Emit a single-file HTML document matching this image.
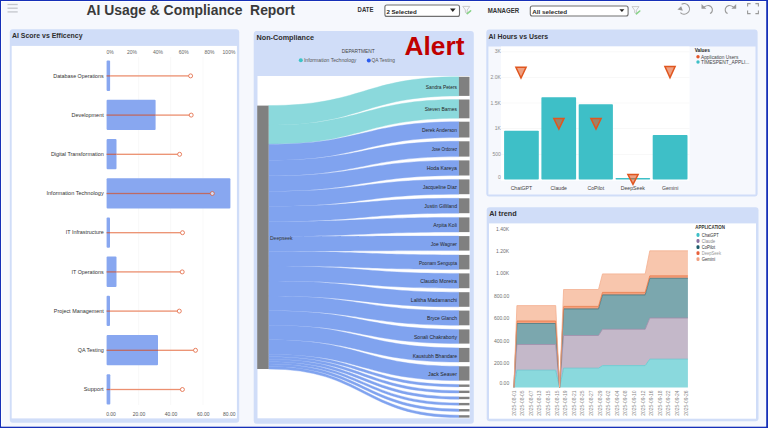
<!DOCTYPE html>
<html><head><meta charset="utf-8"><title>AI Usage &amp; Compliance Report</title>
<style>html,body{margin:0;padding:0;width:768px;height:428px;overflow:hidden;background:#f6f8fd;font-family:"Liberation Sans", sans-serif;}svg{display:block}</style>
</head><body>
<svg width="768" height="428" viewBox="0 0 768 428"><rect x="0" y="0" width="768" height="428" fill="#1630b8"/>
<rect x="1" y="1.0" width="765.2" height="425.6" fill="#ffffff"/>
<rect x="1.8" y="2" width="764" height="424.2" fill="#f6f8fd"/>
<rect x="7.5" y="3.85" width="10.2" height="1.3" fill="#c4c6cc"/>
<rect x="7.5" y="7.549999999999999" width="10.2" height="1.3" fill="#c4c6cc"/>
<rect x="7.5" y="11.25" width="10.2" height="1.3" fill="#c4c6cc"/>
<text x="86.4" y="14.8" font-family='"Liberation Sans", sans-serif' font-weight="bold" font-size="14" fill="#3a3a3a" textLength="208.5" lengthAdjust="spacingAndGlyphs" xml:space="preserve">AI Usage &amp; Compliance  Report</text>
<text x="357.6" y="12.2" font-family='"Liberation Sans", sans-serif' font-weight="bold" font-size="6.4" fill="#333333" textLength="15.8" lengthAdjust="spacingAndGlyphs">DATE</text>
<rect x="384.9" y="5.0" width="74.6" height="11.4" rx="2" fill="#ffffff" stroke="#707070" stroke-width="1.1"/>
<text x="386.4" y="13.5" font-family='"Liberation Sans", sans-serif' font-weight="bold" font-size="6.2" fill="#252423" textLength="30.4" lengthAdjust="spacingAndGlyphs">2 Selected</text>
<path d="M450 8.6 L455.6 8.6 L452.8 12.1 Z" fill="#252423"/>
<path d="M462.8 6.4 L469.8 6.4 L467.2 10.0 L467.2 13.4 L465.40000000000003 12.4 L465.40000000000003 10.0 Z" fill="none" stroke="#c4c4c4" stroke-width="0.9"/><path d="M467.2 13.600000000000001 L470.6 10.8" fill="none" stroke="#88d488" stroke-width="1.6" stroke-linecap="round"/>
<text x="487.7" y="12.6" font-family='"Liberation Sans", sans-serif' font-weight="bold" font-size="6.4" fill="#333333" textLength="31.5" lengthAdjust="spacingAndGlyphs">MANAGER</text>
<rect x="530.3" y="6.0" width="97.8" height="10" rx="2" fill="#ffffff" stroke="#707070" stroke-width="1.1"/>
<text x="532.2" y="13.6" font-family='"Liberation Sans", sans-serif' font-weight="bold" font-size="6.2" fill="#2a2a2a" textLength="35" lengthAdjust="spacingAndGlyphs">All selected</text>
<path d="M619.4 9.2 L624.4 9.2 L621.9 12 Z" fill="#252423"/>
<path d="M632 6.6 L639 6.6 L636.4 10.2 L636.4 13.6 L634.6 12.6 L634.6 10.2 Z" fill="none" stroke="#c4c4c4" stroke-width="0.9"/><path d="M636.4 13.8 L639.8 11.0" fill="none" stroke="#88d488" stroke-width="1.6" stroke-linecap="round"/>
<path d="M681.6 4.2 A5.3 5.3 0 1 1 680.4 12.6" fill="none" stroke="#9a9a9a" stroke-width="1.1"/>
<path d="M677.4 9.4 L681.2 6.2 L682.8 10.8 Z" fill="#9a9a9a"/>
<path d="M704 7 Q710 3.5 712.2 8.5 Q713 12 710 13.6" fill="none" stroke="#9a9a9a" stroke-width="1.1"/>
<path d="M701.5 4 L701.5 8.8 L706.3 8.8 Z" fill="#9a9a9a"/>
<path d="M733.6 7 Q727.6 3.5 725.4 8.5 Q724.6 12 727.6 13.6" fill="none" stroke="#9a9a9a" stroke-width="1.1"/>
<path d="M736.2 4 L736.2 8.8 L731.4 8.8 Z" fill="#9a9a9a"/>
<path d="M747.6 6.6 L747.6 3.6 L750.6 3.6 M755.4 3.6 L758.4 3.6 L758.4 6.6 M758.4 10.6 L758.4 13.6 L755.4 13.6 M750.6 13.6 L747.6 13.6 L747.6 10.6" fill="none" stroke="#9a9a9a" stroke-width="1.1"/>
<rect x="9.8" y="29.3" width="229.39999999999998" height="393.4" rx="3" fill="#d0ddf8"/>
<rect x="11.7" y="45.9" width="225.2" height="372.5" fill="#ffffff"/>
<text x="12" y="38.3" font-family='"Liberation Sans", sans-serif' font-weight="bold" font-size="7.2" fill="#2e2e2e" textLength="70.5" lengthAdjust="spacingAndGlyphs">AI Score vs Efficency</text>
<rect x="138.5" y="57" width="0.6" height="348" fill="#f3f3f3"/>
<rect x="170.5" y="57" width="0.6" height="348" fill="#f3f3f3"/>
<rect x="202.7" y="57" width="0.6" height="348" fill="#f3f3f3"/>
<text x="110" y="53.6" font-family='"Liberation Sans", sans-serif' font-size="5" text-anchor="middle" fill="#666666" font-weight="normal" >0%</text>
<text x="132" y="53.6" font-family='"Liberation Sans", sans-serif' font-size="5" text-anchor="middle" fill="#666666" font-weight="normal" >20%</text>
<text x="158" y="53.6" font-family='"Liberation Sans", sans-serif' font-size="5" text-anchor="middle" fill="#666666" font-weight="normal" >40%</text>
<text x="183.7" y="53.6" font-family='"Liberation Sans", sans-serif' font-size="5" text-anchor="middle" fill="#666666" font-weight="normal" >60%</text>
<text x="209.5" y="53.6" font-family='"Liberation Sans", sans-serif' font-size="5" text-anchor="middle" fill="#666666" font-weight="normal" >80%</text>
<text x="229" y="53.6" font-family='"Liberation Sans", sans-serif' font-size="5" text-anchor="middle" fill="#666666" font-weight="normal" >100%</text>
<text x="111" y="415.6" font-family='"Liberation Sans", sans-serif' font-size="5" text-anchor="middle" fill="#555555" font-weight="normal" >0.00</text>
<text x="139" y="415.6" font-family='"Liberation Sans", sans-serif' font-size="5" text-anchor="middle" fill="#555555" font-weight="normal" >20.00</text>
<text x="171" y="415.6" font-family='"Liberation Sans", sans-serif' font-size="5" text-anchor="middle" fill="#555555" font-weight="normal" >40.00</text>
<text x="203.3" y="415.6" font-family='"Liberation Sans", sans-serif' font-size="5" text-anchor="middle" fill="#555555" font-weight="normal" >60.00</text>
<text x="229.3" y="415.6" font-family='"Liberation Sans", sans-serif' font-size="5" text-anchor="middle" fill="#555555" font-weight="normal" >80.00</text>
<text x="103.7" y="77.5" font-family='"Liberation Sans", sans-serif' font-size="5.4" text-anchor="end" fill="#333333" font-weight="normal" textLength="50.4" lengthAdjust="spacingAndGlyphs">Database Operations</text>
<rect x="106.6" y="60.599999999999994" width="3.5" height="30.3" rx="1" fill="#88a7f0"/>
<rect x="106.6" y="75.24999999999999" width="3.5" height="1.3" fill="#bd6a64"/>
<rect x="110.1" y="75.24999999999999" width="78.5" height="1.3" fill="#ec9070"/>
<circle cx="190.6" cy="75.89999999999999" r="2" fill="#ffffff" fill-opacity="0.6" stroke="#e05a30" stroke-opacity="0.75" stroke-width="1"/>
<text x="103.7" y="116.7" font-family='"Liberation Sans", sans-serif' font-size="5.4" text-anchor="end" fill="#333333" font-weight="normal" textLength="32.1" lengthAdjust="spacingAndGlyphs">Development</text>
<rect x="106.6" y="99.8" width="49.0" height="30.3" rx="1" fill="#88a7f0"/>
<rect x="106.6" y="114.44999999999999" width="49.0" height="1.3" fill="#bd6a64"/>
<rect x="155.6" y="114.44999999999999" width="33.599999999999994" height="1.3" fill="#ec9070"/>
<circle cx="191.2" cy="115.1" r="2" fill="#ffffff" fill-opacity="0.6" stroke="#e05a30" stroke-opacity="0.75" stroke-width="1"/>
<text x="103.7" y="155.9" font-family='"Liberation Sans", sans-serif' font-size="5.4" text-anchor="end" fill="#333333" font-weight="normal" textLength="52.8" lengthAdjust="spacingAndGlyphs">Digital Transformation</text>
<rect x="106.6" y="139.0" width="9.900000000000006" height="30.3" rx="1" fill="#88a7f0"/>
<rect x="106.6" y="153.65" width="9.900000000000006" height="1.3" fill="#bd6a64"/>
<rect x="116.5" y="153.65" width="61.099999999999994" height="1.3" fill="#ec9070"/>
<circle cx="179.6" cy="154.3" r="2" fill="#ffffff" fill-opacity="0.6" stroke="#e05a30" stroke-opacity="0.75" stroke-width="1"/>
<text x="103.7" y="195.1" font-family='"Liberation Sans", sans-serif' font-size="5.4" text-anchor="end" fill="#333333" font-weight="normal" textLength="57.2" lengthAdjust="spacingAndGlyphs">Information Technology</text>
<rect x="106.6" y="178.2" width="123.80000000000001" height="30.3" rx="1" fill="#88a7f0"/>
<rect x="106.6" y="192.85" width="103.70000000000002" height="1.3" fill="#bd6a64"/>
<circle cx="212.3" cy="193.5" r="2" fill="#ffffff" fill-opacity="0.6" stroke="#e05a30" stroke-opacity="0.75" stroke-width="1"/>
<text x="103.7" y="234.3" font-family='"Liberation Sans", sans-serif' font-size="5.4" text-anchor="end" fill="#333333" font-weight="normal" textLength="37.9" lengthAdjust="spacingAndGlyphs">IT Infrastructure</text>
<rect x="106.6" y="217.4" width="3.4000000000000057" height="30.3" rx="1" fill="#88a7f0"/>
<rect x="106.6" y="232.05" width="3.4000000000000057" height="1.3" fill="#bd6a64"/>
<rect x="110" y="232.05" width="70.5" height="1.3" fill="#ec9070"/>
<circle cx="182.5" cy="232.70000000000002" r="2" fill="#ffffff" fill-opacity="0.6" stroke="#e05a30" stroke-opacity="0.75" stroke-width="1"/>
<text x="103.7" y="273.5" font-family='"Liberation Sans", sans-serif' font-size="5.4" text-anchor="end" fill="#333333" font-weight="normal" textLength="32.1" lengthAdjust="spacingAndGlyphs">IT Operations</text>
<rect x="106.6" y="256.6" width="9.900000000000006" height="30.3" rx="1" fill="#88a7f0"/>
<rect x="106.6" y="271.25000000000006" width="9.900000000000006" height="1.3" fill="#bd6a64"/>
<rect x="116.5" y="271.25000000000006" width="63.69999999999999" height="1.3" fill="#ec9070"/>
<circle cx="182.2" cy="271.90000000000003" r="2" fill="#ffffff" fill-opacity="0.6" stroke="#e05a30" stroke-opacity="0.75" stroke-width="1"/>
<text x="103.7" y="312.7" font-family='"Liberation Sans", sans-serif' font-size="5.4" text-anchor="end" fill="#333333" font-weight="normal" textLength="49.9" lengthAdjust="spacingAndGlyphs">Project Management</text>
<rect x="106.6" y="295.8" width="3.4000000000000057" height="30.3" rx="1" fill="#88a7f0"/>
<rect x="106.6" y="310.45000000000005" width="3.4000000000000057" height="1.3" fill="#bd6a64"/>
<rect x="110" y="310.45000000000005" width="67.30000000000001" height="1.3" fill="#ec9070"/>
<circle cx="179.3" cy="311.1" r="2" fill="#ffffff" fill-opacity="0.6" stroke="#e05a30" stroke-opacity="0.75" stroke-width="1"/>
<text x="103.7" y="351.9" font-family='"Liberation Sans", sans-serif' font-size="5.4" text-anchor="end" fill="#333333" font-weight="normal" textLength="26" lengthAdjust="spacingAndGlyphs">QA Testing</text>
<rect x="106.6" y="335.0" width="51.400000000000006" height="30.3" rx="1" fill="#88a7f0"/>
<rect x="106.6" y="349.65000000000003" width="51.400000000000006" height="1.3" fill="#bd6a64"/>
<rect x="158" y="349.65000000000003" width="35.5" height="1.3" fill="#ec9070"/>
<circle cx="195.5" cy="350.3" r="2" fill="#ffffff" fill-opacity="0.6" stroke="#e05a30" stroke-opacity="0.75" stroke-width="1"/>
<text x="103.7" y="391.1" font-family='"Liberation Sans", sans-serif' font-size="5.4" text-anchor="end" fill="#333333" font-weight="normal" textLength="20" lengthAdjust="spacingAndGlyphs">Support</text>
<rect x="106.6" y="374.20000000000005" width="3.700000000000003" height="30.3" rx="1" fill="#88a7f0"/>
<rect x="106.6" y="388.8500000000001" width="3.700000000000003" height="1.3" fill="#bd6a64"/>
<rect x="110.3" y="388.8500000000001" width="70.10000000000001" height="1.3" fill="#ec9070"/>
<circle cx="182.4" cy="389.50000000000006" r="2" fill="#ffffff" fill-opacity="0.6" stroke="#e05a30" stroke-opacity="0.75" stroke-width="1"/>
<rect x="253.7" y="31" width="220.10000000000002" height="392.8" rx="3" fill="#d0ddf8"/>
<rect x="257.5" y="76" width="212.3" height="342.3" fill="#ffffff"/>
<text x="256.5" y="40.2" font-family='"Liberation Sans", sans-serif' font-weight="bold" font-size="7.2" fill="#2e2e2e" textLength="57.6" lengthAdjust="spacingAndGlyphs">Non-Compliance</text>
<text x="341.8" y="53" font-family='"Liberation Sans", sans-serif' font-size="5" text-anchor="start" fill="#444444" font-weight="normal" textLength="32.8" lengthAdjust="spacingAndGlyphs">DEPARTMENT</text>
<circle cx="300.8" cy="60.3" r="2" fill="#3cc4c8"/>
<text x="303.9" y="62" font-family='"Liberation Sans", sans-serif' font-size="5" text-anchor="start" fill="#555555" font-weight="normal" textLength="52.5" lengthAdjust="spacingAndGlyphs">Information Technology</text>
<circle cx="368.8" cy="60.4" r="2" fill="#2a5cf0"/>
<text x="371.5" y="62" font-family='"Liberation Sans", sans-serif' font-size="5" text-anchor="start" fill="#555555" font-weight="normal" textLength="23.5" lengthAdjust="spacingAndGlyphs">QA Testing</text>
<text x="404.6" y="55.2" font-family='"Liberation Sans", sans-serif' font-weight="bold" font-size="26" fill="#c00000" textLength="59.8" lengthAdjust="spacingAndGlyphs">Alert</text>
<path d="M268.6 105.60 C363.75 105.60 363.75 76.80 458.9 76.80 L458.9 95.90 C363.75 95.90 363.75 125.05 268.6 125.05 Z" fill="#8bd9dc" stroke="#8bd9dc" stroke-width="0.4"/><path d="M268.6 125.05 C363.75 125.05 363.75 99.50 458.9 99.50 L458.9 118.30 C363.75 118.30 363.75 144.19 268.6 144.19 Z" fill="#8bd9dc" stroke="#8bd9dc" stroke-width="0.4"/><path d="M268.6 144.19 C363.75 144.19 363.75 121.70 458.9 121.70 L458.9 137.50 C363.75 137.50 363.75 160.28 268.6 160.28 Z" fill="#80a3ef" stroke="#80a3ef" stroke-width="0.4"/><path d="M268.6 160.28 C363.75 160.28 363.75 141.30 458.9 141.30 L458.9 156.60 C363.75 156.60 363.75 175.85 268.6 175.85 Z" fill="#80a3ef" stroke="#80a3ef" stroke-width="0.4"/><path d="M268.6 175.85 C363.75 175.85 363.75 160.40 458.9 160.40 L458.9 175.50 C363.75 175.50 363.75 191.23 268.6 191.23 Z" fill="#80a3ef" stroke="#80a3ef" stroke-width="0.4"/><path d="M268.6 191.23 C363.75 191.23 363.75 179.40 458.9 179.40 L458.9 194.20 C363.75 194.20 363.75 206.30 268.6 206.30 Z" fill="#80a3ef" stroke="#80a3ef" stroke-width="0.4"/><path d="M268.6 206.30 C363.75 206.30 363.75 198.30 458.9 198.30 L458.9 213.20 C363.75 213.20 363.75 221.47 268.6 221.47 Z" fill="#80a3ef" stroke="#80a3ef" stroke-width="0.4"/><path d="M268.6 221.47 C363.75 221.47 363.75 217.40 458.9 217.40 L458.9 232.10 C363.75 232.10 363.75 236.43 268.6 236.43 Z" fill="#80a3ef" stroke="#80a3ef" stroke-width="0.4"/><path d="M268.6 236.43 C363.75 236.43 363.75 236.10 458.9 236.10 L458.9 250.60 C363.75 250.60 363.75 251.20 268.6 251.20 Z" fill="#80a3ef" stroke="#80a3ef" stroke-width="0.4"/><path d="M268.6 251.20 C363.75 251.20 363.75 254.90 458.9 254.90 L458.9 269.40 C363.75 269.40 363.75 265.96 268.6 265.96 Z" fill="#80a3ef" stroke="#80a3ef" stroke-width="0.4"/><path d="M268.6 265.96 C363.75 265.96 363.75 273.40 458.9 273.40 L458.9 288.20 C363.75 288.20 363.75 281.03 268.6 281.03 Z" fill="#80a3ef" stroke="#80a3ef" stroke-width="0.4"/><path d="M268.6 281.03 C363.75 281.03 363.75 292.20 458.9 292.20 L458.9 306.80 C363.75 306.80 363.75 295.90 268.6 295.90 Z" fill="#80a3ef" stroke="#80a3ef" stroke-width="0.4"/><path d="M268.6 295.90 C363.75 295.90 363.75 310.60 458.9 310.60 L458.9 325.30 C363.75 325.30 363.75 310.86 268.6 310.86 Z" fill="#80a3ef" stroke="#80a3ef" stroke-width="0.4"/><path d="M268.6 310.86 C363.75 310.86 363.75 329.40 458.9 329.40 L458.9 343.60 C363.75 343.60 363.75 325.32 268.6 325.32 Z" fill="#80a3ef" stroke="#80a3ef" stroke-width="0.4"/><path d="M268.6 325.32 C363.75 325.32 363.75 347.90 458.9 347.90 L458.9 362.10 C363.75 362.10 363.75 339.78 268.6 339.78 Z" fill="#80a3ef" stroke="#80a3ef" stroke-width="0.4"/><path d="M268.6 339.78 C363.75 339.78 363.75 366.30 458.9 366.30 L458.9 380.60 C363.75 380.60 363.75 354.34 268.6 354.34 Z" fill="#80a3ef" stroke="#80a3ef" stroke-width="0.4"/><path d="M268.6 354.34 C363.75 354.34 363.75 384.50 458.9 384.50 L458.9 386.90 C363.75 386.90 363.75 356.78 268.6 356.78 Z" fill="#80a3ef" stroke="#80a3ef" stroke-width="0.4"/><path d="M268.6 356.78 C363.75 356.78 363.75 390.64 458.9 390.64 L458.9 393.04 C363.75 393.04 363.75 359.23 268.6 359.23 Z" fill="#80a3ef" stroke="#80a3ef" stroke-width="0.4"/><path d="M268.6 359.23 C363.75 359.23 363.75 396.78 458.9 396.78 L458.9 399.18 C363.75 399.18 363.75 361.67 268.6 361.67 Z" fill="#80a3ef" stroke="#80a3ef" stroke-width="0.4"/><path d="M268.6 361.67 C363.75 361.67 363.75 402.92 458.9 402.92 L458.9 405.32 C363.75 405.32 363.75 364.11 268.6 364.11 Z" fill="#80a3ef" stroke="#80a3ef" stroke-width="0.4"/><path d="M268.6 364.11 C363.75 364.11 363.75 409.06 458.9 409.06 L458.9 411.46 C363.75 411.46 363.75 366.56 268.6 366.56 Z" fill="#80a3ef" stroke="#80a3ef" stroke-width="0.4"/><path d="M268.6 366.56 C363.75 366.56 363.75 415.20 458.9 415.20 L458.9 417.60 C363.75 417.60 363.75 369.00 268.6 369.00 Z" fill="#80a3ef" stroke="#80a3ef" stroke-width="0.4"/>
<rect x="257.2" y="105.6" width="11.4" height="263.4" fill="#808080"/>
<rect x="458.9" y="76.80" width="10.6" height="19.10" fill="#808080"/>
<text x="457" y="88.85" font-family='"Liberation Sans", sans-serif' font-size="5.2" text-anchor="end" fill="#252525" font-weight="normal" textLength="31.2" lengthAdjust="spacingAndGlyphs">Sandra Peters</text>
<rect x="458.9" y="99.50" width="10.6" height="18.80" fill="#808080"/>
<text x="457" y="111.4" font-family='"Liberation Sans", sans-serif' font-size="5.2" text-anchor="end" fill="#252525" font-weight="normal" textLength="32.3" lengthAdjust="spacingAndGlyphs">Steven Barnes</text>
<rect x="458.9" y="121.70" width="10.6" height="15.80" fill="#808080"/>
<text x="457" y="132.1" font-family='"Liberation Sans", sans-serif' font-size="5.2" text-anchor="end" fill="#252525" font-weight="normal" textLength="35.0" lengthAdjust="spacingAndGlyphs">Derek Anderson</text>
<rect x="458.9" y="141.30" width="10.6" height="15.30" fill="#808080"/>
<text x="457" y="151.45" font-family='"Liberation Sans", sans-serif' font-size="5.2" text-anchor="end" fill="#252525" font-weight="normal" textLength="25.2" lengthAdjust="spacingAndGlyphs">Jose Ordonez</text>
<rect x="458.9" y="160.40" width="10.6" height="15.10" fill="#808080"/>
<text x="457" y="170.45" font-family='"Liberation Sans", sans-serif' font-size="5.2" text-anchor="end" fill="#252525" font-weight="normal" textLength="30.3" lengthAdjust="spacingAndGlyphs">Hoda Kareya</text>
<rect x="458.9" y="179.40" width="10.6" height="14.80" fill="#808080"/>
<text x="457" y="189.3" font-family='"Liberation Sans", sans-serif' font-size="5.2" text-anchor="end" fill="#252525" font-weight="normal" textLength="34.2" lengthAdjust="spacingAndGlyphs">Jacqueline Diaz</text>
<rect x="458.9" y="198.30" width="10.6" height="14.90" fill="#808080"/>
<text x="457" y="208.25" font-family='"Liberation Sans", sans-serif' font-size="5.2" text-anchor="end" fill="#252525" font-weight="normal" textLength="32.7" lengthAdjust="spacingAndGlyphs">Justin Gilliland</text>
<rect x="458.9" y="217.40" width="10.6" height="14.70" fill="#808080"/>
<text x="457" y="227.25" font-family='"Liberation Sans", sans-serif' font-size="5.2" text-anchor="end" fill="#252525" font-weight="normal" textLength="23.7" lengthAdjust="spacingAndGlyphs">Arpita Koli</text>
<rect x="458.9" y="236.10" width="10.6" height="14.50" fill="#808080"/>
<text x="457" y="245.85" font-family='"Liberation Sans", sans-serif' font-size="5.2" text-anchor="end" fill="#252525" font-weight="normal" textLength="26.2" lengthAdjust="spacingAndGlyphs">Joe Wagner</text>
<rect x="458.9" y="254.90" width="10.6" height="14.50" fill="#808080"/>
<text x="457" y="264.65" font-family='"Liberation Sans", sans-serif' font-size="5.2" text-anchor="end" fill="#252525" font-weight="normal" textLength="38.0" lengthAdjust="spacingAndGlyphs">Poonam Sengupta</text>
<rect x="458.9" y="273.40" width="10.6" height="14.80" fill="#808080"/>
<text x="457" y="283.29999999999995" font-family='"Liberation Sans", sans-serif' font-size="5.2" text-anchor="end" fill="#252525" font-weight="normal" textLength="36.8" lengthAdjust="spacingAndGlyphs">Claudio Moreira</text>
<rect x="458.9" y="292.20" width="10.6" height="14.60" fill="#808080"/>
<text x="457" y="302.0" font-family='"Liberation Sans", sans-serif' font-size="5.2" text-anchor="end" fill="#252525" font-weight="normal" textLength="46.2" lengthAdjust="spacingAndGlyphs">Lalitha Madamanchi</text>
<rect x="458.9" y="310.60" width="10.6" height="14.70" fill="#808080"/>
<text x="457" y="320.45000000000005" font-family='"Liberation Sans", sans-serif' font-size="5.2" text-anchor="end" fill="#252525" font-weight="normal" textLength="29.9" lengthAdjust="spacingAndGlyphs">Bryce Glanch</text>
<rect x="458.9" y="329.40" width="10.6" height="14.20" fill="#808080"/>
<text x="457" y="339.0" font-family='"Liberation Sans", sans-serif' font-size="5.2" text-anchor="end" fill="#252525" font-weight="normal" textLength="43.0" lengthAdjust="spacingAndGlyphs">Sonali Chakraborty</text>
<rect x="458.9" y="347.90" width="10.6" height="14.20" fill="#808080"/>
<text x="457" y="357.5" font-family='"Liberation Sans", sans-serif' font-size="5.2" text-anchor="end" fill="#252525" font-weight="normal" textLength="44.3" lengthAdjust="spacingAndGlyphs">Kaustubh Bhandare</text>
<rect x="458.9" y="366.30" width="10.6" height="14.30" fill="#808080"/>
<text x="457" y="375.95000000000005" font-family='"Liberation Sans", sans-serif' font-size="5.2" text-anchor="end" fill="#252525" font-weight="normal" textLength="29.0" lengthAdjust="spacingAndGlyphs">Jack Seaver</text>
<rect x="458.9" y="384.50" width="10.6" height="2.40" fill="#808080"/>
<rect x="458.9" y="390.64" width="10.6" height="2.40" fill="#808080"/>
<rect x="458.9" y="396.78" width="10.6" height="2.40" fill="#808080"/>
<rect x="458.9" y="402.92" width="10.6" height="2.40" fill="#808080"/>
<rect x="458.9" y="409.06" width="10.6" height="2.40" fill="#808080"/>
<rect x="458.9" y="415.20" width="10.6" height="2.40" fill="#808080"/>
<text x="270" y="239.8" font-family='"Liberation Sans", sans-serif' font-size="5" text-anchor="start" fill="#333333" font-weight="normal" >Deepseek</text>
<rect x="486.3" y="29.6" width="271.3" height="167.0" rx="3" fill="#d0ddf8"/>
<rect x="488.4" y="46.5" width="267.1" height="148" fill="#f6f8fd"/>
<rect x="501" y="46.5" width="188.5" height="134.2" fill="#ffffff"/>
<text x="488.6" y="38.7" font-family='"Liberation Sans", sans-serif' font-weight="bold" font-size="7.2" fill="#2e2e2e" textLength="59.5" lengthAdjust="spacingAndGlyphs">AI Hours vs Users</text>
<rect x="501" y="51.650000000000006" width="188.5" height="0.5" fill="#f1f1f1"/>
<text x="500.8" y="53.400000000000006" font-family='"Liberation Sans", sans-serif' font-size="5" text-anchor="end" fill="#8a8a8a" font-weight="normal" >3K</text>
<rect x="501" y="77.05" width="188.5" height="0.5" fill="#f1f1f1"/>
<text x="500.8" y="78.8" font-family='"Liberation Sans", sans-serif' font-size="5" text-anchor="end" fill="#8a8a8a" font-weight="normal" >2.0K</text>
<rect x="501" y="102.75" width="188.5" height="0.5" fill="#f1f1f1"/>
<text x="500.8" y="104.5" font-family='"Liberation Sans", sans-serif' font-size="5" text-anchor="end" fill="#8a8a8a" font-weight="normal" >1.5K</text>
<rect x="501" y="128.35" width="188.5" height="0.5" fill="#f1f1f1"/>
<text x="500.8" y="130.1" font-family='"Liberation Sans", sans-serif' font-size="5" text-anchor="end" fill="#8a8a8a" font-weight="normal" >1K</text>
<rect x="501" y="154.14999999999998" width="188.5" height="0.5" fill="#f1f1f1"/>
<text x="500.8" y="155.89999999999998" font-family='"Liberation Sans", sans-serif' font-size="5" text-anchor="end" fill="#8a8a8a" font-weight="normal" >500</text>
<text x="500.8" y="179.1" font-family='"Liberation Sans", sans-serif' font-size="5" text-anchor="end" fill="#8a8a8a" font-weight="normal" >0</text>
<rect x="504.1" y="130.8" width="34.69999999999993" height="48.79999999999998" rx="0.8" fill="#3ebfc7"/>
<text x="521.45" y="189.5" font-family='"Liberation Sans", sans-serif' font-size="5.2" text-anchor="middle" fill="#444444" font-weight="normal" >ChatGPT</text>
<rect x="541.4" y="97.3" width="34.700000000000045" height="82.3" rx="0.8" fill="#3ebfc7"/>
<text x="558.75" y="189.5" font-family='"Liberation Sans", sans-serif' font-size="5.2" text-anchor="middle" fill="#444444" font-weight="normal" >Claude</text>
<rect x="578.7" y="104.3" width="34.19999999999993" height="75.3" rx="0.8" fill="#3ebfc7"/>
<text x="595.8" y="189.5" font-family='"Liberation Sans", sans-serif' font-size="5.2" text-anchor="middle" fill="#444444" font-weight="normal" >CoPilot</text>
<rect x="615.5" y="178" width="34.700000000000045" height="1.5999999999999943" rx="0.8" fill="#3ebfc7"/>
<text x="632.85" y="189.5" font-family='"Liberation Sans", sans-serif' font-size="5.2" text-anchor="middle" fill="#444444" font-weight="normal" >DeepSeek</text>
<rect x="652.7" y="135.1" width="34.799999999999955" height="44.5" rx="0.8" fill="#3ebfc7"/>
<text x="670.1" y="189.5" font-family='"Liberation Sans", sans-serif' font-size="5.2" text-anchor="middle" fill="#444444" font-weight="normal" >Gemini</text>
<path d="M515.9 67.2 L526.1 67.2 L521 78 Z" fill="rgba(224,84,30,0.55)" stroke="#e0561f" stroke-width="1.5" stroke-linejoin="miter"/>
<path d="M553.8 118.4 L564.0 118.4 L558.9 129 Z" fill="rgba(224,84,30,0.55)" stroke="#e0561f" stroke-width="1.5" stroke-linejoin="miter"/>
<path d="M590.9 118.4 L601.1 118.4 L596 129 Z" fill="rgba(224,84,30,0.55)" stroke="#e0561f" stroke-width="1.5" stroke-linejoin="miter"/>
<path d="M627.9 174.6 L638.1 174.6 L633 184.4 Z" fill="rgba(224,84,30,0.55)" stroke="#e0561f" stroke-width="1.5" stroke-linejoin="miter"/>
<path d="M664.9 66.5 L675.1 66.5 L670 77.6 Z" fill="rgba(224,84,30,0.55)" stroke="#e0561f" stroke-width="1.5" stroke-linejoin="miter"/>
<text x="694.7" y="51.8" font-family='"Liberation Sans", sans-serif' font-size="5.2" text-anchor="start" fill="#252423" font-weight="bold" textLength="15.2" lengthAdjust="spacingAndGlyphs">Values</text>
<circle cx="698" cy="56.8" r="1.7" fill="#e5552a"/>
<text x="701" y="58.6" font-family='"Liberation Sans", sans-serif' font-size="5" text-anchor="start" fill="#444444" font-weight="normal" textLength="37.3" lengthAdjust="spacingAndGlyphs">Application Users</text>
<circle cx="698" cy="62" r="1.7" fill="#3ebfc7"/>
<text x="701" y="64" font-family='"Liberation Sans", sans-serif' font-size="5" text-anchor="start" fill="#444444" font-weight="normal" textLength="48.3" lengthAdjust="spacingAndGlyphs">TIMESPENT_APPLI...</text>
<rect x="486.7" y="207.3" width="271.8" height="213.89999999999998" rx="3" fill="#d0ddf8"/>
<rect x="489" y="223.4" width="267" height="195.3" fill="#ffffff"/>
<text x="489.3" y="215.8" font-family='"Liberation Sans", sans-serif' font-weight="bold" font-size="7.2" fill="#2e2e2e" textLength="27.4" lengthAdjust="spacingAndGlyphs">AI trend</text>
<text x="509.2" y="231.0" font-family='"Liberation Sans", sans-serif' font-size="5" text-anchor="end" fill="#707070" font-weight="normal" >1.40K</text>
<text x="509.2" y="252.79999999999998" font-family='"Liberation Sans", sans-serif' font-size="5" text-anchor="end" fill="#707070" font-weight="normal" >1.20K</text>
<text x="509.2" y="275.2" font-family='"Liberation Sans", sans-serif' font-size="5" text-anchor="end" fill="#707070" font-weight="normal" >1.00K</text>
<text x="509.2" y="297.5" font-family='"Liberation Sans", sans-serif' font-size="5" text-anchor="end" fill="#707070" font-weight="normal" >800.00</text>
<text x="509.2" y="320.4" font-family='"Liberation Sans", sans-serif' font-size="5" text-anchor="end" fill="#707070" font-weight="normal" >600.00</text>
<text x="509.2" y="343.3" font-family='"Liberation Sans", sans-serif' font-size="5" text-anchor="end" fill="#707070" font-weight="normal" >400.00</text>
<text x="509.2" y="365.2" font-family='"Liberation Sans", sans-serif' font-size="5" text-anchor="end" fill="#707070" font-weight="normal" >200.00</text>
<text x="509.2" y="385.4" font-family='"Liberation Sans", sans-serif' font-size="5" text-anchor="end" fill="#707070" font-weight="normal" >0.00</text>
<path d="M513.90 387.40 L516.90 370.20 L555.70 370.20 L559.60 387.40 L563.60 368.20 L598.50 368.20 L602.50 365.60 L645.20 365.60 L649.80 359.20 L687.90 359.20 L687.90 387.40 L649.80 387.40 L645.20 387.40 L602.50 387.40 L598.50 387.40 L563.60 387.40 L559.60 387.40 L555.70 387.40 L516.90 387.40 L513.90 387.40 Z" fill="#8ad9dd"/>
<path d="M513.90 387.40 L516.90 344.50 L555.70 344.50 L559.60 387.40 L563.60 335.50 L598.50 335.50 L602.50 329.30 L645.20 329.30 L649.80 318.00 L687.90 318.00 L687.90 359.20 L649.80 359.20 L645.20 365.60 L602.50 365.60 L598.50 368.20 L563.60 368.20 L559.60 387.40 L555.70 370.20 L516.90 370.20 L513.90 387.40 Z" fill="#c4b8c9"/>
<path d="M513.90 387.40 L516.90 323.50 L555.70 323.50 L559.60 387.40 L563.60 308.90 L598.50 308.90 L602.50 294.90 L645.20 294.90 L649.80 278.30 L687.90 278.30 L687.90 318.00 L649.80 318.00 L645.20 329.30 L602.50 329.30 L598.50 335.50 L563.60 335.50 L559.60 387.40 L555.70 344.50 L516.90 344.50 L513.90 387.40 Z" fill="#7ba7ae"/>
<path d="M513.90 387.40 L516.90 321.00 L555.70 321.00 L559.60 387.40 L563.60 306.40 L598.50 306.40 L602.50 292.40 L645.20 292.40 L649.80 275.80 L687.90 275.80 L687.90 278.30 L649.80 278.30 L645.20 294.90 L602.50 294.90 L598.50 308.90 L563.60 308.90 L559.60 387.40 L555.70 323.50 L516.90 323.50 L513.90 387.40 Z" fill="#f3a07e"/>
<path d="M513.90 387.40 L516.90 305.60 L555.70 305.60 L559.60 387.40 L563.60 289.50 L598.50 289.50 L602.50 273.90 L645.20 273.90 L649.80 250.80 L687.90 250.80 L687.90 275.80 L649.80 275.80 L645.20 292.40 L602.50 292.40 L598.50 306.40 L563.60 306.40 L559.60 387.40 L555.70 321.00 L516.90 321.00 L513.90 387.40 Z" fill="#f8c6ad"/>
<path d="M513.90 387.40 L516.90 370.20 L555.70 370.20 L559.60 387.40 L563.60 368.20 L598.50 368.20 L602.50 365.60 L645.20 365.60 L649.80 359.20 L687.90 359.20" fill="none" stroke="#5cc9cf" stroke-width="0.8"/>
<path d="M513.90 387.40 L516.90 344.50 L555.70 344.50 L559.60 387.40 L563.60 335.50 L598.50 335.50 L602.50 329.30 L645.20 329.30 L649.80 318.00 L687.90 318.00" fill="none" stroke="#9f8aa8" stroke-width="0.8"/>
<path d="M513.90 387.40 L516.90 323.50 L555.70 323.50 L559.60 387.40 L563.60 308.90 L598.50 308.90 L602.50 294.90 L645.20 294.90 L649.80 278.30 L687.90 278.30" fill="none" stroke="#3e7682" stroke-width="0.8"/>
<path d="M513.90 387.40 L516.90 321.00 L555.70 321.00 L559.60 387.40 L563.60 306.40 L598.50 306.40 L602.50 292.40 L645.20 292.40 L649.80 275.80 L687.90 275.80" fill="none" stroke="#e8743f" stroke-width="0.8"/>
<path d="M513.90 387.40 L516.90 305.60 L555.70 305.60 L559.60 387.40 L563.60 289.50 L598.50 289.50 L602.50 273.90 L645.20 273.90 L649.80 250.80 L687.90 250.80" fill="none" stroke="#f4b090" stroke-width="0.8"/>
<text transform="translate(515.50 415.8) rotate(-90)" font-family='"Liberation Sans", sans-serif' font-size="4.6" fill="#8a8a8a" textLength="25.4" lengthAdjust="spacingAndGlyphs">2025-08-01</text>
<text transform="translate(524.10 415.8) rotate(-90)" font-family='"Liberation Sans", sans-serif' font-size="4.6" fill="#8a8a8a" textLength="25.4" lengthAdjust="spacingAndGlyphs">2025-08-05</text>
<text transform="translate(532.70 415.8) rotate(-90)" font-family='"Liberation Sans", sans-serif' font-size="4.6" fill="#8a8a8a" textLength="25.4" lengthAdjust="spacingAndGlyphs">2025-08-07</text>
<text transform="translate(541.30 415.8) rotate(-90)" font-family='"Liberation Sans", sans-serif' font-size="4.6" fill="#8a8a8a" textLength="25.4" lengthAdjust="spacingAndGlyphs">2025-08-13</text>
<text transform="translate(549.90 415.8) rotate(-90)" font-family='"Liberation Sans", sans-serif' font-size="4.6" fill="#8a8a8a" textLength="25.4" lengthAdjust="spacingAndGlyphs">2025-08-15</text>
<text transform="translate(558.50 415.8) rotate(-90)" font-family='"Liberation Sans", sans-serif' font-size="4.6" fill="#8a8a8a" textLength="25.4" lengthAdjust="spacingAndGlyphs">2025-08-15</text>
<text transform="translate(567.10 415.8) rotate(-90)" font-family='"Liberation Sans", sans-serif' font-size="4.6" fill="#8a8a8a" textLength="25.4" lengthAdjust="spacingAndGlyphs">2025-08-19</text>
<text transform="translate(575.70 415.8) rotate(-90)" font-family='"Liberation Sans", sans-serif' font-size="4.6" fill="#8a8a8a" textLength="25.4" lengthAdjust="spacingAndGlyphs">2025-08-21</text>
<text transform="translate(584.30 415.8) rotate(-90)" font-family='"Liberation Sans", sans-serif' font-size="4.6" fill="#8a8a8a" textLength="25.4" lengthAdjust="spacingAndGlyphs">2025-08-25</text>
<text transform="translate(592.90 415.8) rotate(-90)" font-family='"Liberation Sans", sans-serif' font-size="4.6" fill="#8a8a8a" textLength="25.4" lengthAdjust="spacingAndGlyphs">2025-08-27</text>
<text transform="translate(601.50 415.8) rotate(-90)" font-family='"Liberation Sans", sans-serif' font-size="4.6" fill="#8a8a8a" textLength="25.4" lengthAdjust="spacingAndGlyphs">2025-08-29</text>
<text transform="translate(610.10 415.8) rotate(-90)" font-family='"Liberation Sans", sans-serif' font-size="4.6" fill="#8a8a8a" textLength="25.4" lengthAdjust="spacingAndGlyphs">2025-09-02</text>
<text transform="translate(618.70 415.8) rotate(-90)" font-family='"Liberation Sans", sans-serif' font-size="4.6" fill="#8a8a8a" textLength="25.4" lengthAdjust="spacingAndGlyphs">2025-09-04</text>
<text transform="translate(627.30 415.8) rotate(-90)" font-family='"Liberation Sans", sans-serif' font-size="4.6" fill="#8a8a8a" textLength="25.4" lengthAdjust="spacingAndGlyphs">2025-09-08</text>
<text transform="translate(635.90 415.8) rotate(-90)" font-family='"Liberation Sans", sans-serif' font-size="4.6" fill="#8a8a8a" textLength="25.4" lengthAdjust="spacingAndGlyphs">2025-09-10</text>
<text transform="translate(644.50 415.8) rotate(-90)" font-family='"Liberation Sans", sans-serif' font-size="4.6" fill="#8a8a8a" textLength="25.4" lengthAdjust="spacingAndGlyphs">2025-09-12</text>
<text transform="translate(653.10 415.8) rotate(-90)" font-family='"Liberation Sans", sans-serif' font-size="4.6" fill="#8a8a8a" textLength="25.4" lengthAdjust="spacingAndGlyphs">2025-09-16</text>
<text transform="translate(661.70 415.8) rotate(-90)" font-family='"Liberation Sans", sans-serif' font-size="4.6" fill="#8a8a8a" textLength="25.4" lengthAdjust="spacingAndGlyphs">2025-09-18</text>
<text transform="translate(670.30 415.8) rotate(-90)" font-family='"Liberation Sans", sans-serif' font-size="4.6" fill="#8a8a8a" textLength="25.4" lengthAdjust="spacingAndGlyphs">2025-09-22</text>
<text transform="translate(678.90 415.8) rotate(-90)" font-family='"Liberation Sans", sans-serif' font-size="4.6" fill="#8a8a8a" textLength="25.4" lengthAdjust="spacingAndGlyphs">2025-09-24</text>
<text transform="translate(687.50 415.8) rotate(-90)" font-family='"Liberation Sans", sans-serif' font-size="4.6" fill="#8a8a8a" textLength="25.4" lengthAdjust="spacingAndGlyphs">2025-09-26</text>
<text x="695.3" y="229" font-family='"Liberation Sans", sans-serif' font-size="5" text-anchor="start" fill="#333333" font-weight="bold" textLength="29.7" lengthAdjust="spacingAndGlyphs">APPLICATION</text>
<rect x="696.5" y="233.1" width="3" height="3.8" rx="1.3" fill="#3ebfc8"/>
<text x="701.7" y="236.7" font-family='"Liberation Sans", sans-serif' font-size="5" text-anchor="start" fill="#333333" font-weight="normal" textLength="17" lengthAdjust="spacingAndGlyphs">ChatGPT</text>
<rect x="696.5" y="239.12" width="3" height="3.8" rx="1.3" fill="#8a70a0"/>
<text x="701.7" y="242.72" font-family='"Liberation Sans", sans-serif' font-size="5" text-anchor="start" fill="#888888" font-weight="normal" textLength="13.4" lengthAdjust="spacingAndGlyphs">Claude</text>
<rect x="696.5" y="245.14" width="3" height="3.8" rx="1.3" fill="#1a5a6a"/>
<text x="701.7" y="248.73999999999998" font-family='"Liberation Sans", sans-serif' font-size="5" text-anchor="start" fill="#333333" font-weight="normal" textLength="13.4" lengthAdjust="spacingAndGlyphs">CoPilot</text>
<rect x="696.5" y="251.16" width="3" height="3.8" rx="1.3" fill="#e8603a"/>
<text x="701.7" y="254.76" font-family='"Liberation Sans", sans-serif' font-size="5" text-anchor="start" fill="#999999" font-weight="normal" textLength="19.3" lengthAdjust="spacingAndGlyphs">DeepSeek</text>
<rect x="696.5" y="257.18" width="3" height="3.8" rx="1.3" fill="#f0a080"/>
<text x="701.7" y="260.78" font-family='"Liberation Sans", sans-serif' font-size="5" text-anchor="start" fill="#333333" font-weight="normal" textLength="13.4" lengthAdjust="spacingAndGlyphs">Gemini</text></svg>
</body></html>
